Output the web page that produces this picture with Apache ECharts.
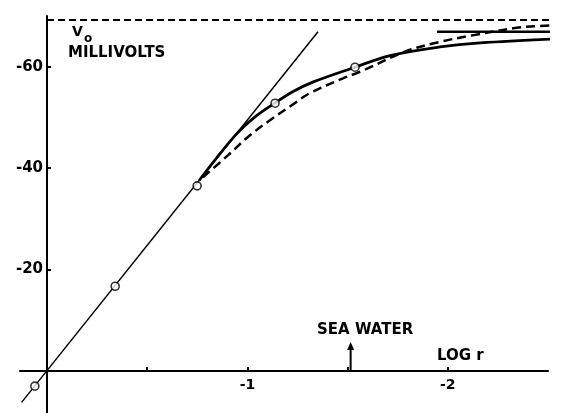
<!DOCTYPE html>
<html>
<head>
<meta charset="utf-8">
<script src="https://cdn.jsdelivr.net/npm/echarts@6/dist/echarts.min.js"></script>
<style>
html,body{margin:0;padding:0;background:#fff;}
#chart{width:579px;height:413px;}
</style>
</head>
<body>
<div id="chart"></div>
<script>
// ---- data (log r on x, V0 in millivolts on y) ----
const xTicks = [-0.5, -1, -1.5, -2];
const xTickLabels = [-1, -2];
const yTickLabels = [-20, -40, -60];
const fitLine = [[0.127, 6.2], [-1.352, -66.9]];
const measured = [[0.061, 3.0], [-0.34, -16.7], [-0.749, -36.5], [-1.138, -52.8], [-1.537, -59.9]];
const solidCurve = [[-0.76, -37.6], [-0.938, -46.4], [-1.038, -50.1], [-1.136, -52.8], [-1.228, -55.1],
  [-1.329, -57.0], [-1.537, -59.9], [-1.712, -62.2], [-1.961, -63.9], [-2.161, -64.7], [-2.600, -65.6]];
const dashedCurve = [[-0.778, -38.2], [-0.905, -42.6], [-1.004, -46.2], [-1.104, -49.2], [-1.221, -52.4],
  [-1.312, -54.8], [-1.477, -57.7], [-1.562, -59.0], [-1.795, -63.1], [-1.961, -64.9], [-2.111, -66.1],
  [-2.375, -67.8], [-2.655, -68.3]];
const solidLimit = [[-1.946, -66.9], [-2.655, -66.9]];
const dashedLimit = [[0, -69.2], [-2.655, -69.2]];
const seaWater = [[-1.515, 0], [-1.515, -4.9]];

const FONT = 'DejaVu Sans';
const labelStyle = {color: '#000', fontFamily: FONT, fontWeight: 'bold', textBorderWidth: 0, opacity: 1};
const chart = echarts.init(document.getElementById('chart'), null, {renderer: 'canvas'});
chart.setOption({
  animation: false,
  backgroundColor: '#fff',
  grid: {left: 20, right: 31, top: 16, bottom: 0, containLabel: false, outerBoundsMode: 'none'},
  xAxis: {
    type: 'value', min: -2.5, max: 0.135, inverse: true,
    splitLine: {show: false},
    axisLine: {onZero: true, lineStyle: {color: '#000', width: 2}},
    axisTick: {customValues: xTicks, inside: true, length: 4, lineStyle: {color: '#000', width: 2}},
    axisLabel: {show: false}
  },
  yAxis: {
    type: 'value', min: -70, max: 8.3, inverse: true,
    splitLine: {show: false},
    axisLine: {onZero: true, lineStyle: {color: '#000', width: 2}},
    axisTick: {customValues: yTickLabels, inside: true, length: 4, lineStyle: {color: '#000', width: 2}},
    axisLabel: {show: false}
  },
  series: [
    {type: 'line', data: dashedLimit, symbol: 'none', clip: false,
      lineStyle: {color: '#000', width: 2, type: [7, 4]}},
    {type: 'line', data: solidLimit, symbol: 'none', clip: false,
      lineStyle: {color: '#000', width: 2.5}},
    {type: 'line', data: fitLine, symbol: 'none', clip: false,
      lineStyle: {color: '#000', width: 1.5}},
    {type: 'line', data: solidCurve, symbol: 'none', clip: false, smooth: 0.35,
      lineStyle: {color: '#000', width: 2.8}},
    {type: 'line', data: dashedCurve, symbol: 'none', clip: false, smooth: 0.35,
      lineStyle: {color: '#000', width: 2.5, type: [9, 5]}},
    {type: 'line', data: seaWater, clip: false,
      symbol: (v, p) => p.dataIndex === 1 ? 'triangle' : 'none', symbolSize: [7, 8],
      itemStyle: {color: '#000'},
      lineStyle: {color: '#000', width: 2}},
    {type: 'scatter', data: measured, symbol: 'circle', symbolSize: 8, clip: false, z: 10,
      itemStyle: {color: '#fff', borderColor: '#000', borderWidth: 1.6}},
    // tick labels, placed at their axis values
    {type: 'scatter', data: xTickLabels.map(v => [v, 0]), symbolSize: 0, clip: false, silent: true,
      itemStyle: {color: '#000'},
      label: {show: true, position: 'bottom', distance: 7, formatter: p => String(p.value[0]),
        fontSize: 14, ...labelStyle}},
    {type: 'scatter', data: yTickLabels.map(v => [0, v]), symbolSize: 0, clip: false, silent: true,
      itemStyle: {color: '#000'},
      label: {show: true, position: 'left', distance: 4, formatter: p => String(p.value[1]),
        fontSize: 15, ...labelStyle}}
  ],
  graphic: [
    {type: 'text', left: 72, top: 25, style: {text: 'V', font: 'bold 14px "DejaVu Sans"', fill: '#000'}},
    {type: 'text', left: 84, top: 33, style: {text: 'o', font: 'bold 12px "DejaVu Sans"', fill: '#000'}},
    {type: 'text', left: 68, top: 46, style: {text: 'MILLIVOLTS', font: 'bold 15px "DejaVu Sans"', fill: '#000'}},
    {type: 'text', left: 317, top: 323, style: {text: 'SEA WATER', font: 'bold 15px "DejaVu Sans"', fill: '#000'}},
    {type: 'text', left: 437, top: 349, style: {text: 'LOG r', font: 'bold 15px "DejaVu Sans"', fill: '#000'}}
  ]
});
</script>
</body>
</html>
